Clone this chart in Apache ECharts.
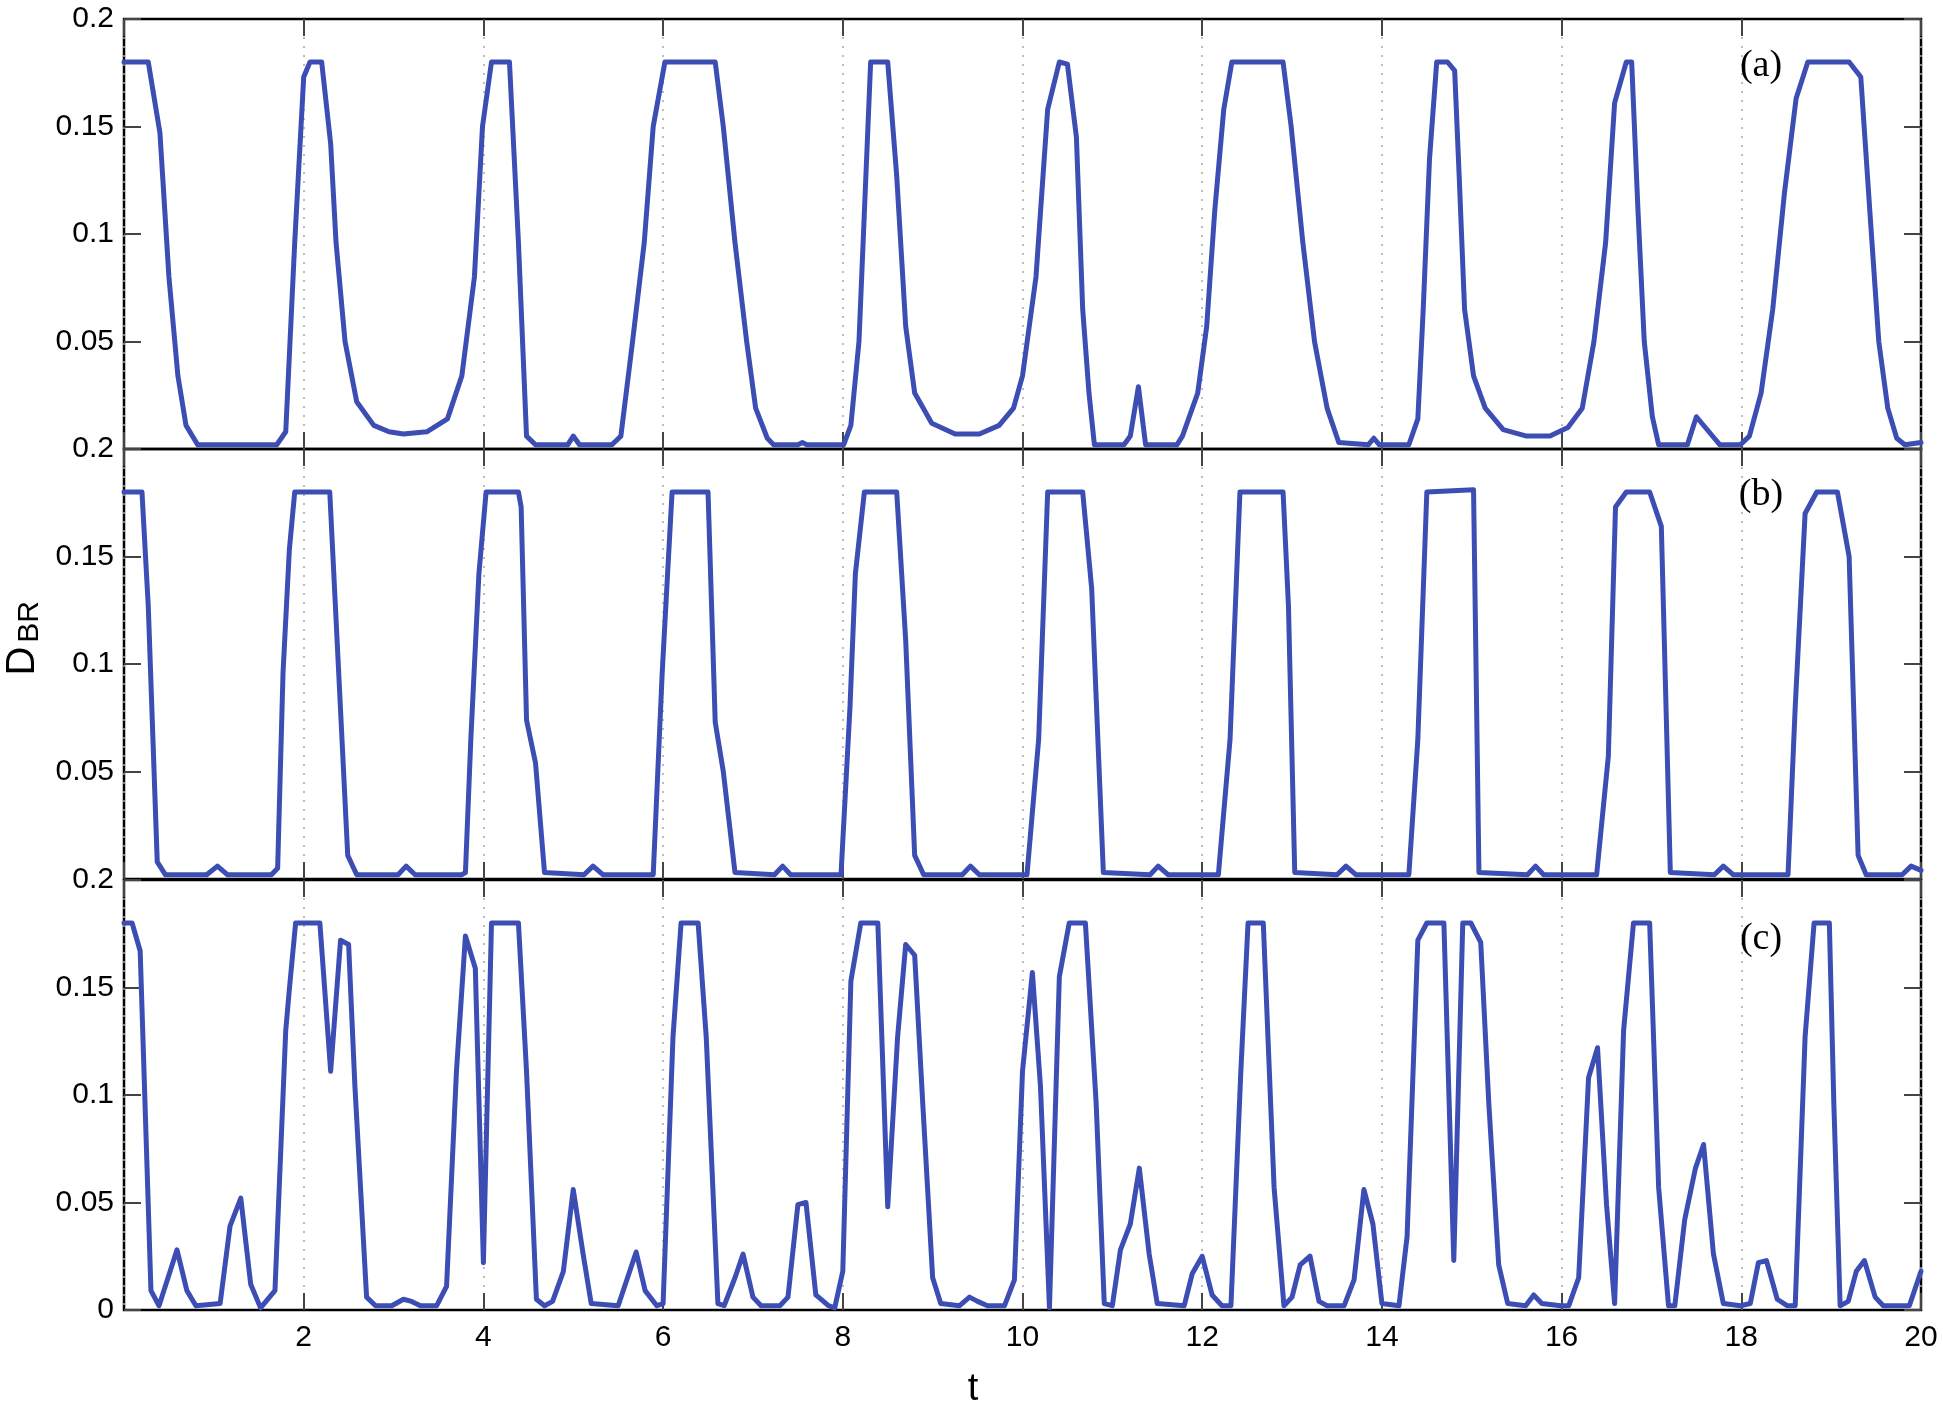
<!DOCTYPE html>
<html>
<head>
<meta charset="utf-8">
<title>D_BR vs t</title>
<script src="https://cdn.jsdelivr.net/npm/echarts@6/dist/echarts.min.js"></script>
<style>
  html, body { margin: 0; padding: 0; background: #fff; }
  #chart { width: 1943px; height: 1412px; }
</style>
</head>
<body>
<div id="chart"></div>
<script>
// values: [t, D_BR] breakpoints of each trace
const panelA = [
  [0, 0.18], [0.27, 0.18], [0.4, 0.147], [0.5, 0.08], [0.6, 0.034], [0.69, 0.011], [0.82, 0.002],
  [1.7, 0.002], [1.8, 0.008], [1.9, 0.096], [2.0, 0.173], [2.07, 0.18], [2.2, 0.18], [2.3, 0.142],
  [2.36, 0.096], [2.46, 0.05], [2.59, 0.022], [2.78, 0.011], [2.95, 0.008], [3.11, 0.007], [3.37, 0.008],
  [3.6, 0.014], [3.76, 0.034], [3.9, 0.08], [3.99, 0.15], [4.09, 0.18], [4.29, 0.18], [4.39, 0.096],
  [4.48, 0.006], [4.58, 0.002], [4.94, 0.002], [5.0, 0.006], [5.07, 0.002], [5.43, 0.002], [5.53, 0.006],
  [5.66, 0.05], [5.79, 0.096], [5.89, 0.15], [6.02, 0.18], [6.58, 0.18], [6.67, 0.15], [6.8, 0.096],
  [6.93, 0.05], [7.03, 0.019], [7.16, 0.005], [7.23, 0.002], [7.5, 0.002], [7.55, 0.003], [7.6, 0.002],
  [8.01, 0.002], [8.09, 0.011], [8.18, 0.05], [8.24, 0.11], [8.31, 0.18], [8.5, 0.18], [8.6, 0.127],
  [8.7, 0.057], [8.8, 0.026], [8.99, 0.012], [9.25, 0.007], [9.52, 0.007], [9.74, 0.011], [9.9, 0.019],
  [10.0, 0.034], [10.15, 0.08], [10.28, 0.158], [10.41, 0.18], [10.5, 0.179], [10.6, 0.145], [10.67, 0.065],
  [10.74, 0.026], [10.8, 0.002], [11.13, 0.002], [11.2, 0.006], [11.29, 0.029], [11.37, 0.002], [11.72, 0.002],
  [11.78, 0.006], [11.95, 0.026], [12.05, 0.057], [12.14, 0.111], [12.24, 0.158], [12.33, 0.18], [12.9, 0.18],
  [12.99, 0.15], [13.12, 0.096], [13.25, 0.05], [13.39, 0.019], [13.52, 0.003], [13.85, 0.002], [13.91, 0.005],
  [13.97, 0.002], [14.3, 0.002], [14.4, 0.014], [14.46, 0.065], [14.53, 0.135], [14.61, 0.18], [14.73, 0.18],
  [14.81, 0.176], [14.86, 0.127], [14.92, 0.065], [15.02, 0.034], [15.15, 0.019], [15.35, 0.009], [15.61, 0.006],
  [15.87, 0.006], [16.07, 0.01], [16.23, 0.019], [16.36, 0.05], [16.49, 0.096], [16.59, 0.161], [16.72, 0.18],
  [16.78, 0.18], [16.85, 0.111], [16.92, 0.05], [17.01, 0.015], [17.08, 0.002], [17.4, 0.002], [17.5, 0.015],
  [17.7, 0.005], [17.76, 0.002], [17.99, 0.002], [18.09, 0.006], [18.22, 0.026], [18.35, 0.065], [18.48, 0.119],
  [18.61, 0.163], [18.74, 0.18], [19.2, 0.18], [19.33, 0.173], [19.43, 0.111], [19.53, 0.05], [19.63, 0.019],
  [19.73, 0.005], [19.82, 0.002], [20, 0.003]
];

const panelB = [
  [0, 0.18], [0.2, 0.18], [0.27, 0.127], [0.37, 0.008], [0.46, 0.002], [0.92, 0.002], [1.04, 0.006],
  [1.15, 0.002], [1.64, 0.002], [1.71, 0.005], [1.77, 0.096], [1.84, 0.153], [1.9, 0.18], [2.29, 0.18],
  [2.49, 0.011], [2.59, 0.002], [3.05, 0.002], [3.14, 0.006], [3.24, 0.002], [3.76, 0.002], [3.8, 0.003],
  [3.86, 0.065], [3.95, 0.142], [4.03, 0.18], [4.39, 0.18], [4.42, 0.173], [4.48, 0.074], [4.58, 0.054],
  [4.68, 0.003], [5.12, 0.002], [5.22, 0.006], [5.33, 0.002], [5.89, 0.002], [5.99, 0.096], [6.05, 0.142],
  [6.1, 0.18], [6.5, 0.18], [6.58, 0.073], [6.67, 0.05], [6.8, 0.003], [7.24, 0.002], [7.33, 0.006],
  [7.42, 0.002], [7.98, 0.002], [8.08, 0.08], [8.14, 0.142], [8.24, 0.18], [8.6, 0.18], [8.7, 0.111],
  [8.8, 0.011], [8.9, 0.002], [9.33, 0.002], [9.42, 0.006], [9.52, 0.002], [10.05, 0.002], [10.18, 0.065],
  [10.28, 0.18], [10.67, 0.18], [10.77, 0.135], [10.9, 0.003], [11.42, 0.002], [11.51, 0.006], [11.62, 0.002],
  [12.18, 0.002], [12.31, 0.065], [12.42, 0.18], [12.9, 0.18], [12.96, 0.127], [13.03, 0.003], [13.5, 0.002],
  [13.6, 0.006], [13.71, 0.002], [14.3, 0.002], [14.4, 0.065], [14.5, 0.18], [15.02, 0.181], [15.08, 0.003],
  [15.62, 0.002], [15.71, 0.006], [15.8, 0.002], [16.39, 0.002], [16.52, 0.057], [16.6, 0.173], [16.72, 0.18],
  [16.98, 0.18], [17.11, 0.164], [17.21, 0.003], [17.7, 0.002], [17.8, 0.006], [17.91, 0.002], [18.52, 0.002],
  [18.6, 0.08], [18.71, 0.17], [18.84, 0.18], [19.07, 0.18], [19.2, 0.15], [19.3, 0.011], [19.39, 0.002],
  [19.79, 0.002], [19.89, 0.006], [20, 0.004]
];

const panelC = [
  [0, 0.18], [0.09, 0.18], [0.18, 0.167], [0.3, 0.009], [0.39, 0.002], [0.59, 0.028], [0.7, 0.009],
  [0.8, 0.002], [1.07, 0.003], [1.18, 0.039], [1.3, 0.052], [1.41, 0.012], [1.52, 0.001], [1.68, 0.009],
  [1.8, 0.13], [1.84, 0.149], [1.91, 0.18], [2.18, 0.18], [2.3, 0.111], [2.41, 0.172], [2.5, 0.17],
  [2.57, 0.104], [2.7, 0.006], [2.8, 0.002], [2.98, 0.002], [3.11, 0.005], [3.2, 0.004], [3.3, 0.002],
  [3.48, 0.002], [3.59, 0.011], [3.7, 0.111], [3.8, 0.174], [3.91, 0.159], [4.0, 0.022], [4.09, 0.18],
  [4.39, 0.18], [4.48, 0.111], [4.59, 0.005], [4.68, 0.002], [4.77, 0.004], [4.89, 0.018], [5.0, 0.056],
  [5.11, 0.026], [5.2, 0.003], [5.5, 0.002], [5.7, 0.027], [5.8, 0.009], [5.93, 0.002], [6.0, 0.003],
  [6.11, 0.127], [6.2, 0.18], [6.39, 0.18], [6.48, 0.127], [6.61, 0.003], [6.68, 0.002], [6.8, 0.015],
  [6.89, 0.026], [7.0, 0.006], [7.09, 0.002], [7.3, 0.002], [7.39, 0.006], [7.5, 0.049], [7.59, 0.05],
  [7.7, 0.007], [7.84, 0.002], [7.91, 0.001], [8.0, 0.018], [8.09, 0.153], [8.2, 0.18], [8.39, 0.18],
  [8.5, 0.048], [8.61, 0.127], [8.7, 0.17], [8.8, 0.165], [8.89, 0.096], [9.0, 0.015], [9.09, 0.003],
  [9.3, 0.002], [9.41, 0.006], [9.5, 0.004], [9.61, 0.002], [9.8, 0.002], [9.91, 0.014], [10.0, 0.111],
  [10.11, 0.157], [10.2, 0.104], [10.3, 0.001], [10.41, 0.155], [10.52, 0.18], [10.7, 0.18], [10.82, 0.096],
  [10.91, 0.003], [11.0, 0.002], [11.09, 0.028], [11.2, 0.04], [11.3, 0.066], [11.41, 0.026], [11.5, 0.003],
  [11.8, 0.002], [11.89, 0.017], [12.0, 0.025], [12.11, 0.007], [12.22, 0.002], [12.32, 0.002], [12.43, 0.111],
  [12.51, 0.18], [12.68, 0.18], [12.8, 0.057], [12.91, 0.002], [13.0, 0.006], [13.09, 0.021], [13.2, 0.025],
  [13.3, 0.004], [13.39, 0.002], [13.58, 0.002], [13.69, 0.014], [13.8, 0.056], [13.9, 0.04], [14.0, 0.003],
  [14.19, 0.002], [14.28, 0.034], [14.4, 0.172], [14.5, 0.18], [14.69, 0.18], [14.8, 0.023], [14.9, 0.18],
  [14.99, 0.18], [15.1, 0.171], [15.19, 0.096], [15.3, 0.021], [15.4, 0.003], [15.6, 0.002], [15.69, 0.007],
  [15.78, 0.003], [15.99, 0.002], [16.08, 0.002], [16.19, 0.015], [16.3, 0.108], [16.4, 0.122], [16.5, 0.049],
  [16.59, 0.003], [16.69, 0.13], [16.8, 0.18], [16.98, 0.18], [17.08, 0.057], [17.19, 0.002], [17.26, 0.002],
  [17.37, 0.042], [17.49, 0.066], [17.58, 0.077], [17.69, 0.026], [17.8, 0.003], [17.99, 0.002], [18.1, 0.003],
  [18.19, 0.022], [18.28, 0.023], [18.4, 0.005], [18.51, 0.002], [18.6, 0.002], [18.71, 0.127], [18.81, 0.18],
  [18.98, 0.18], [19.03, 0.096], [19.1, 0.002], [19.19, 0.004], [19.28, 0.018], [19.37, 0.023], [19.49, 0.006],
  [19.58, 0.002], [19.87, 0.002], [20, 0.018]
];

const panelTags = ['(a)', '(b)', '(c)'];
const tRange = [0, 20];
const tStep = 2;
const dRange = [0, 0.2];
const dStep = 0.05;

const LINE_BLUE = '#3c4db4';
const TICK_FONT = '"Liberation Sans", Arial, sans-serif';

const chart = echarts.init(document.getElementById('chart'), null, { renderer: 'canvas' });

const panelTop = [19, 449, 880];
const panelHeight = 430;

const grids = panelTop.map(top => ({
  left: 124,
  right: 22,
  top: top,
  height: panelHeight,
  show: true,
  borderColor: '#000',
  borderWidth: 2.5,
  backgroundColor: 'transparent'
}));

const makeTick = () => ({ show: true, inside: true, length: 17, lineStyle: { color: '#444', width: 2 } });
// onZero off, otherwise the top/right axes jump onto the zero line
const noLine = () => ({ show: false, onZero: false });

const xAxes = [];
const yAxes = [];
panelTop.forEach((top, i) => {
  const isLast = i === panelTop.length - 1;
  // bottom x axis: labels on the last panel, dotted grid
  xAxes.push({
    type: 'value', gridIndex: i, position: 'bottom',
    min: tRange[0], max: tRange[1], interval: tStep,
    axisLine: noLine(),
    axisTick: makeTick(),
    splitLine: { show: true, lineStyle: { color: '#a8a8a8', type: [2, 7], width: 1.5 } },
    axisLabel: {
      show: isLast, showMinLabel: false, margin: 13,
      fontFamily: TICK_FONT, fontSize: 30, color: '#000'
    }
  });
  // top x axis: ticks only
  xAxes.push({
    type: 'value', gridIndex: i, position: 'top',
    min: tRange[0], max: tRange[1], interval: tStep,
    axisLine: noLine(), axisTick: makeTick(),
    splitLine: { show: false }, axisLabel: { show: false }
  });
  yAxes.push({
    type: 'value', gridIndex: i, position: 'left',
    min: dRange[0], max: dRange[1], interval: dStep,
    axisLine: noLine(), axisTick: makeTick(),
    splitLine: { show: false },
    axisLabel: {
      show: true, showMinLabel: isLast, margin: 10,
      fontFamily: TICK_FONT, fontSize: 30, color: '#000',
      formatter: v => String(+v.toFixed(2))
    }
  });
  yAxes.push({
    type: 'value', gridIndex: i, position: 'right',
    min: dRange[0], max: dRange[1], interval: dStep,
    axisLine: noLine(), axisTick: makeTick(),
    splitLine: { show: false }, axisLabel: { show: false }
  });
});

const series = [panelA, panelB, panelC].map((data, i) => ({
  type: 'line',
  xAxisIndex: i * 2,
  yAxisIndex: i * 2,
  data: data,
  showSymbol: false,
  silent: true,
  animation: false,
  lineStyle: { color: LINE_BLUE, width: 5, join: 'round', cap: 'round' },
  z: 3
}));

const tagPos = [[1761, 66], [1761, 495], [1761, 939]];
const graphics = panelTags.map((tag, i) => ({
  type: 'text',
  x: tagPos[i][0], y: tagPos[i][1],
  style: {
    text: tag, fill: '#000',
    font: '38px "Liberation Serif", "Times New Roman", serif',
    align: 'center', verticalAlign: 'middle',
    textAlign: 'center', textVerticalAlign: 'middle'
  },
  z: 10
}));

graphics.push({
  type: 'text', x: 23, y: 661, rotation: Math.PI / 2,
  style: {
    text: 'D', fill: '#000', font: '40px "Liberation Sans", sans-serif',
    align: 'center', verticalAlign: 'middle', textAlign: 'center', textVerticalAlign: 'middle'
  }
});
graphics.push({
  type: 'text', x: 30, y: 622, rotation: Math.PI / 2,
  style: {
    text: 'BR', fill: '#000', font: '30px "Liberation Sans", sans-serif',
    align: 'center', verticalAlign: 'middle', textAlign: 'center', textVerticalAlign: 'middle'
  }
});
graphics.push({
  type: 'text', x: 973, y: 1390,
  style: {
    text: 't', fill: '#000', font: '38px ' + TICK_FONT,
    align: 'center', verticalAlign: 'middle', textAlign: 'center', textVerticalAlign: 'middle'
  }
});

chart.setOption({
  backgroundColor: '#fff',
  animation: false,
  grid: grids,
  xAxis: xAxes,
  yAxis: yAxes,
  series: series,
  graphic: graphics
});
</script>
</body>
</html>
